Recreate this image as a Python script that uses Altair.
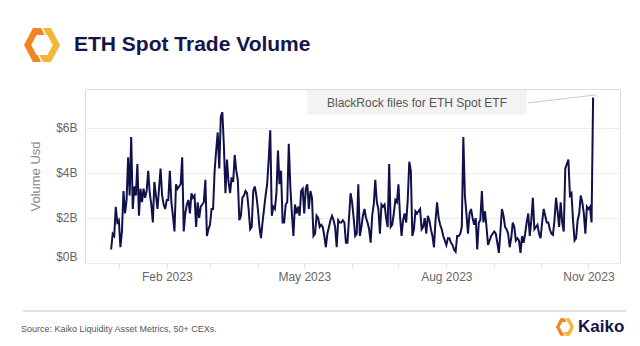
import altair as alt
import pandas as pd

FONT = "Liberation Sans"
NAVY = "#15154b"

# ---- data (daily ETH spot trade volume, $B) ----
start_date = "2022-12-27"
volume_part1 = [
    0.6, 1.3, 1.2, 2.5, 1.8, 1.9, 0.7, 1.4, 3.2, 2.2,
    2.8, 4.7, 3.0, 5.6, 2.4, 3.4, 3.0, 4.4, 2.1, 3.3,
    2.7, 3.3, 2.9, 3.2, 4.1, 3.1, 2.6, 1.8, 3.6, 3.0,
    2.4, 3.3, 4.2, 3.0, 2.6, 2.4, 2.8, 2.8, 4.1, 2.7,
    2.1, 1.4, 3.5, 3.3, 3.4, 3.5, 4.7, 1.4, 2.2, 2.6,
    2.8, 2.2, 3.1, 2.9, 3.0, 1.6, 2.7, 2.0, 2.5, 2.6,
    2.7, 3.7, 1.2, 1.5, 1.7, 2.4, 2.4, 4.1, 5.0, 5.8,
    4.2, 6.5, 6.7, 5.2, 3.1, 4.6,
]
volume_part2 = [
    3.6, 3.1, 3.8, 3.6, 4.8, 4.1, 3.7, 1.9, 2.1, 2.9,
    3.0, 3.2, 3.1, 2.4, 1.5, 1.6, 3.2, 3.4, 3.0, 2.4,
    1.6, 1.1, 1.8, 2.4, 3.0, 3.5, 4.6, 5.9, 2.1, 2.5,
    2.4, 3.1, 5.0, 3.5, 4.1, 1.8, 1.8, 2.6, 2.7, 5.3,
    3.4, 2.2, 1.2, 2.6, 2.2, 2.5, 2.1, 3.2, 3.3, 2.2,
    3.3, 3.5, 2.4, 3.2, 2.9, 1.2, 1.3, 2.1, 2.0, 1.6,
    1.7, 1.6, 1.2, 0.7, 1.3, 1.6, 1.9, 2.1, 1.9, 1.6,
    0.7, 1.9, 1.8, 1.8, 1.9, 1.8, 0.9, 0.9, 2.0,
]
volume_part3 = [
    3.1, 2.7, 2.0, 1.2, 1.3, 3.5, 1.2, 1.6, 2.1, 2.4,
    2.0, 1.8, 1.5, 0.9, 2.1, 2.6, 3.7, 2.7, 2.4, 1.3,
    2.6, 2.5, 2.6, 2.0, 1.6, 4.4, 1.6, 1.7, 2.2, 2.8,
    2.7, 3.5, 2.1, 1.2, 1.9, 2.2, 1.8, 2.8, 4.5, 4.1,
    1.2, 1.5, 2.3, 2.2, 2.3, 2.4, 1.5, 1.6, 2.0, 1.3,
    2.1, 1.9, 1.5, 1.2, 0.7, 1.9, 2.7, 2.0, 1.7, 1.5,
    1.2, 1.0, 0.8, 1.1, 1.1, 0.9, 0.8, 0.6, 0.5, 1.2,
    1.2, 1.3, 1.6, 5.6, 3.0, 2.2, 1.3, 2.2, 2.4, 2.0,
    1.7, 2.0, 0.6, 1.8, 1.9, 3.2, 1.8, 2.3, 1.6, 0.8,
    1.0, 1.2, 1.3, 1.4, 1.3, 0.9, 0.45, 1.4, 2.4, 2.1,
    1.6, 1.5, 1.3, 0.7, 1.1, 1.8, 1.6, 1.0, 1.1, 1.0,
    0.45, 1.2, 0.9, 1.3, 1.8, 2.2, 1.2, 1.9, 2.9, 1.5,
    1.6, 1.7, 1.3, 1.1, 1.8, 2.4, 2.1, 1.8, 1.8, 1.5,
    1.3, 1.25, 1.9, 2.9, 2.3, 1.6, 2.7, 1.8, 1.4, 4.2,
    4.4, 4.6, 3.0, 3.1, 1.9, 1.0, 1.1, 1.9, 2.2, 3.0,
    2.7, 2.2, 1.3, 2.5, 2.4, 2.5, 1.8, 7.35,
]
y_ticks = [0, 2, 4, 6]
y_max = 7.73

# annotation
ann_text = ["BlackRock files for ETH Spot ETF"]
ann_box_start = ["2023-05-03"]
ann_box_end = ["2023-09-22"]
ann_box_top = [7.69]
ann_box_bottom = [6.58]
ann_text_date = ["2023-07-13"]
ann_text_value = [7.13]
ann_line_start = ["2023-09-22T20:00:00Z"]
ann_line_end = ["2023-11-06T00:00:00Z"]
ann_line_y1 = [7.11]
ann_line_y2 = [7.47]

volumes = volume_part1 + volume_part2 + volume_part3
dates = pd.date_range(start_date, periods=len(volumes), freq="D")
df = pd.DataFrame({"date": dates.strftime("%Y-%m-%d"), "volume": volumes})

ann_df = pd.DataFrame({
    "text": ann_text, "x0": ann_box_start, "x1": ann_box_end,
    "top": ann_box_top, "bottom": ann_box_bottom,
    "tx": ann_text_date, "ty": ann_text_value,
    "lx0": ann_line_start, "lx1": ann_line_end,
    "ly0": ann_line_y1, "ly1": ann_line_y2,
})
dummy = pd.DataFrame({"a": [0]})

x_scale = alt.Scale(
    type="utc",
    domain=[alt.DateTime(year=2022, month=12, date=10, hours=2, utc=True),
            alt.DateTime(year=2023, month=11, date=21, hours=10, utc=True)],
)
y_scale = alt.Scale(domain=[0, y_max], nice=False, zero=True)
tick_values = [alt.DateTime(year=2023, month=m, date=1, utc=True) for m in range(1, 12)]

x_axis = alt.Axis(
    values=tick_values,
    labelExpr="utcmonth(datum.value) % 3 == 1 ? utcFormat(datum.value, '%b %Y') : ''",
    grid=False, domain=False, tickColor="#e2e2e2", tickSize=5,
    labelPadding=3, labelFontSize=12, labelColor="#666666", labelFont=FONT,
    labelOverlap=False, title=None,
)
y_axis = alt.Axis(
    values=y_ticks, labelExpr="'$' + datum.value + 'B'",
    grid=True, gridColor="#ececec", domain=False, ticks=False,
    labelPadding=8, labelFlush=True, labelFontSize=12, labelColor="#666666",
    labelFont=FONT, title="Volume Usd", titleFont=FONT, titleFontSize=13,
    titleColor="#888888", titleFontWeight="normal", titleX=-50, titleY=87,
    titleAlign="center", titleBaseline="middle", titleAngle=270,
)


def X(field):
    return alt.X(field, scale=x_scale, axis=x_axis)


def Y(field):
    return alt.Y(field, scale=y_scale, axis=y_axis)


line = alt.Chart(df).mark_line(color="#10104a", strokeWidth=2).encode(
    x=X("date:T"), y=Y("volume:Q"),
)

box = alt.Chart(ann_df).mark_rect(fill="#f3f3f3").encode(
    x=X("x0:T"), x2="x1:T", y=Y("top:Q"), y2="bottom:Q",
)
leader = alt.Chart(ann_df).mark_rule(color="#cccccc", strokeWidth=1).encode(
    x=X("lx0:T"), x2="lx1:T", y=Y("ly0:Q"), y2="ly1:Q",
)
ann_label = alt.Chart(ann_df).mark_text(
    font=FONT, fontSize=12, color="#555555", align="center", baseline="middle"
).encode(
    x=X("tx:T"), y=Y("ty:Q"), text="text:N",
)

# ---- header / footer decorations ----
LEFT_PIECE = "M-0.05,-0.95L-0.5,-0.95L-1,0L-0.5,0.95L-0.05,0.95L-0.25,0.55L-0.3,0.55L-0.6,0L-0.3,-0.55L0.15,-0.55Z"
RIGHT_PIECE = "M0.05,0.95L0.5,0.95L1,0L0.5,-0.95L0.05,-0.95L0.25,-0.55L0.3,-0.55L0.6,0L0.3,0.55L-0.15,0.55Z"


def logo(cx, cy, size):
    a = alt.Chart(dummy).mark_point(shape=LEFT_PIECE, filled=True, fill="#ef8523",
                                    strokeWidth=0, opacity=1, size=size).encode(
        x=alt.value(cx), y=alt.value(cy))
    b = alt.Chart(dummy).mark_point(shape=RIGHT_PIECE, filled=True, fill="#f6b535",
                                    strokeWidth=0, opacity=1, size=size).encode(
        x=alt.value(cx), y=alt.value(cy))
    return [a, b]


title = alt.Chart(dummy).mark_text(
    text="ETH Spot Trade Volume", font=FONT, fontSize=21, fontWeight="bold",
    color=NAVY, align="left", baseline="middle"
).encode(x=alt.value(-11), y=alt.value(-44))

source = alt.Chart(dummy).mark_text(
    text="Source: Kaiko Liquidity Asset Metrics, 50+ CEXs.", font=FONT, fontSize=9,
    color="#555555", align="left", baseline="middle"
).encode(x=alt.value(-64), y=alt.value(240))

separator = alt.Chart(dummy).mark_rule(color="#e0e0e0", strokeWidth=2).encode(
    x=alt.value(-62), x2=alt.value(541), y=alt.value(222))

kaiko = alt.Chart(dummy).mark_text(
    text="Kaiko", font=FONT, fontSize=17, fontWeight="bold", color=NAVY,
    align="left", baseline="middle"
).encode(x=alt.value(493), y=alt.value(238))

layers = [line, box, leader, ann_label, title, source, separator, kaiko]
layers += logo(-43, -44, 1296)
layers += logo(480, 238, 330)

chart = alt.layer(*layers).properties(
    width=535, height=174,
    autosize=alt.AutoSizeParams(type="none"),
    padding={"left": 85, "top": 89, "right": 20, "bottom": 83},
).configure_view(stroke="#ececec").configure(background="white")

chart.save("out.html", embed_options={"renderer": "svg", "actions": False})
